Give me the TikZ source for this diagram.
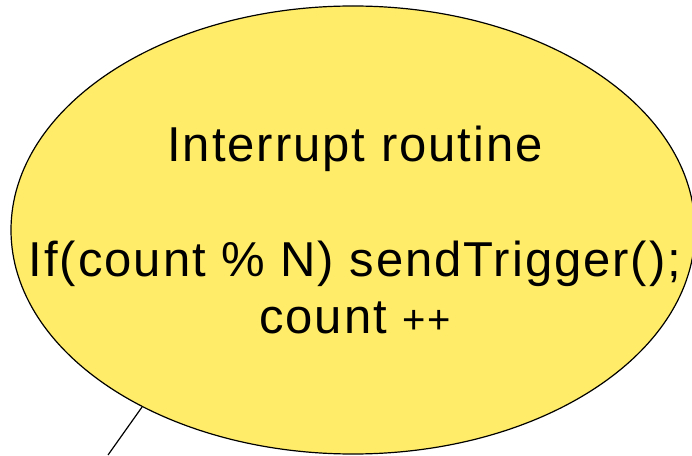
\documentclass[tikz,border=0pt]{standalone}
\usepackage{fontspec}
\setmainfont[LetterSpace=4]{Liberation Sans}
\usetikzlibrary{shapes.geometric}
\definecolor{isryellow}{RGB}{255,236,104}
\tikzset{
  isrnode/.style={ellipse, draw=black, line width=1.2pt, fill=isryellow,
    minimum width=684pt, minimum height=448pt, inner sep=0pt},
  isrtext/.style={align=center, inner sep=0pt,
    font=\fontsize{49pt}{57.5pt}\selectfont},
  link/.style={draw=black, line width=1.2pt}
}
\begin{document}
\begin{tikzpicture}[x=1pt,y=1pt]
  \useasboundingbox (0,0) rectangle (692,455);
  \node[isrnode] (isr) at (353,225) {};
  \node[isrtext] (body) at ([xshift=2pt]isr.center)
    {Interrupt routine\\[57.5pt]If(count \% N) sendTrigger();\\count {\fontsize{40pt}{40pt}\selectfont ++}};
  \coordinate (tail) at (108,0);
  \begin{scope}[link]
    \draw (isr.220) -- (tail);
  \end{scope}
\end{tikzpicture}
\end{document}
